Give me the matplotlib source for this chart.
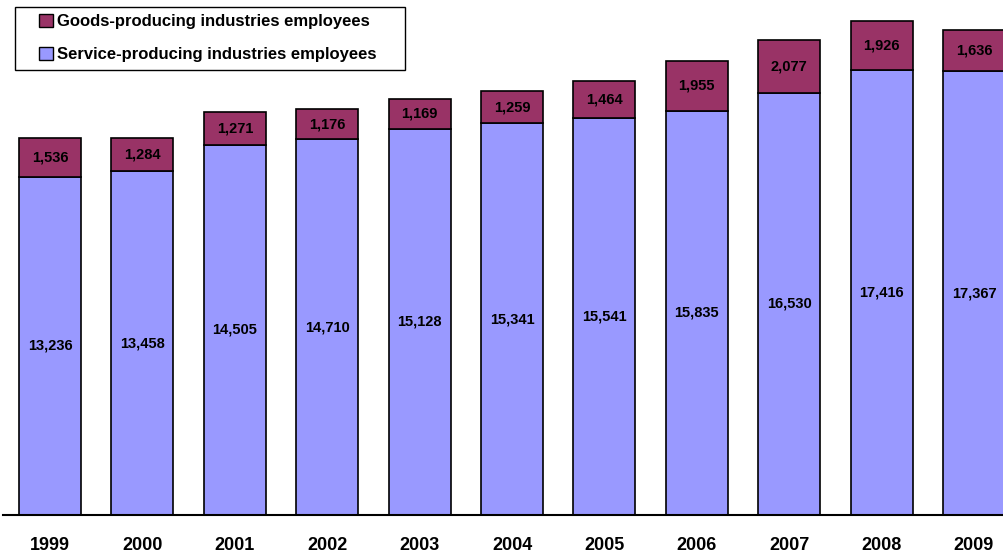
import numpy as np
import matplotlib
matplotlib.use("Agg")
import matplotlib.pyplot as plt
from matplotlib.patches import Patch, Rectangle

plt.rcParams['font.family'] = ['Liberation Sans', 'DejaVu Sans']

# employees by year, split into service and goods producing industries
years = ['1999', '2000', '2001', '2002', '2003', '2004', '2005', '2006', '2007', '2008', '2009']
service = [13236, 13458, 14505, 14710, 15128, 15341, 15541, 15835, 16530, 17416, 17367]
goods = [1536, 1284, 1271, 1176, 1169, 1259, 1464, 1955, 2077, 1926, 1636]

service_color = '#9999FF'
goods_color = '#993366'

W, H = 1004, 554
fig = plt.figure(figsize=(W / 100, H / 100), dpi=100)
ax = fig.add_axes([3 / W, 39 / H, 1 - 3 / W, 1 - 39 / H])

x = np.arange(len(years))
w = 0.671
ax.bar(x, service, w, color=service_color, edgecolor='black', linewidth=1.2, zorder=2)
ax.bar(x, goods, w, bottom=service, color=goods_color, edgecolor='black', linewidth=1.2, zorder=2)

for i in range(len(years)):
    ax.text(x[i], service[i] / 2, f"{service[i]:,}", ha='center', va='center',
            fontsize=10.5, fontweight='bold', color='black', zorder=3)
    ax.text(x[i], service[i] + goods[i] / 2, f"{goods[i]:,}", ha='center', va='center',
            fontsize=10.5, fontweight='bold', color='black', zorder=3)

ax.set_xlim(-0.509, 10.325)
ax.set_ylim(0, 20164)
ax.set_xticks(x)
ax.set_xticklabels(years, fontsize=13, fontweight='bold')
ax.tick_params(axis='x', length=0, pad=16)
ax.set_yticks([])
for side in ['top', 'right', 'left']:
    ax.spines[side].set_visible(False)
ax.spines['bottom'].set_linewidth(1.5)

# legend box drawn separately so the padding can differ left/top
fig.patches.append(Rectangle((15 / W, 1 - 70 / H), 390 / W, 63 / H, transform=fig.transFigure,
                             facecolor='white', edgecolor='black', linewidth=1.0, zorder=5))
handles = [Patch(facecolor=goods_color, edgecolor='black', label='Goods-producing industries employees'),
           Patch(facecolor=service_color, edgecolor='black', label='Service-producing industries employees')]
leg = fig.legend(handles=handles, loc='upper left', bbox_to_anchor=(39 / W, 1 - 14 / H),
                 frameon=False, prop={'weight': 'bold', 'size': 12}, handlelength=0.85,
                 handleheight=0.85, handletextpad=0.25, borderpad=0, labelspacing=1.05,
                 borderaxespad=0)
leg.set_zorder(6)

fig.savefig('out.png', dpi=100)
